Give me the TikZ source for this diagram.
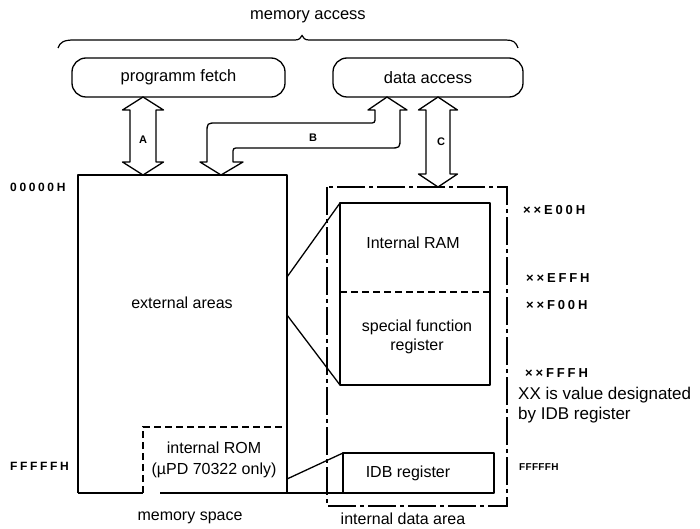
\documentclass[tikz,border=0pt]{standalone}
\usepackage{fontspec}
\setmainfont{Liberation Sans}
\newfontfamily\hexfont[LetterSpace=22]{Liberation Sans}
\newfontfamily\hexfontn[LetterSpace=3]{Liberation Sans}

% hollow double-headed vertical arrow: x, y top, y bottom, half shaft, half head
\newcommand\vdarrow[5]{%
  \draw[outline] (#1,#2) -- (#1+#5,#2+13) -- (#1+#4,#2+13) -- (#1+#4,#3-13)
    -- (#1+#5,#3-13) -- (#1,#3) -- (#1-#5,#3-13) -- (#1-#4,#3-13)
    -- (#1-#4,#2+13) -- (#1-#5,#2+13) -- cycle;}

\begin{document}
\begin{tikzpicture}[x=1pt,y=-1pt,
  outline/.style={line width=1.3pt, line join=round},
  lab/.style={font=\fontsize{16}{19}\selectfont, inner sep=0pt, align=center},
  toplab/.style={font=\fontsize{16.5}{19}\selectfont, inner sep=0pt},
  letter/.style={font=\bfseries\fontsize{11}{13}\selectfont, inner sep=0pt},
  hex/.style={font=\hexfont\bfseries\fontsize{12}{14}\selectfont, inner sep=0pt, anchor=west},
  hexb/.style={font=\hexfont\bfseries\fontsize{13}{15}\selectfont, inner sep=0pt, anchor=west},
  hexs/.style={font=\hexfontn\bfseries\fontsize{10}{12}\selectfont, inner sep=0pt, anchor=west},
  pill/.style={draw, line width=1.3pt, rounded corners=14pt, inner sep=0pt,
    minimum height=39pt, font=\fontsize{16.5}{19}\selectfont},
  dashdot/.style={line width=1.3pt, dash pattern=on 28pt off 4pt on 4pt off 4pt},
  dashline/.style={line width=1.3pt, dash pattern=on 7pt off 4pt},
]
\useasboundingbox (0,0) rectangle (700,529);

% memory access brace
\node[toplab] (ma) at (308,17) {memory access};
\draw[line width=1.2pt] (58,48) .. controls (60,42) and (64,40) .. (74,40) -- (295,40)
  .. controls (299,40) and (301,38) .. (302,35.5) .. controls (303,38) and (305,40) .. (309,40)
  -- (506,40) .. controls (513,40) and (516,42) .. (518,48);

% access units
\node[pill, minimum width=213pt] (pf) at (178.5,77.5) {programm fetch};
\node[pill, minimum width=190pt] (da) at (428,77.5) {data access};

% arrows A and C
\vdarrow{143}{97}{175}{13}{20.5}
\node[letter] (la) at (143,140) {A};
\vdarrow{438}{97}{187}{12}{19.5}
\node[letter] (lc) at (441,142) {C};

% arrow B
\draw[outline] (387,97) -- (407,110) -- (400,110) -- (400,138)
  .. controls (400,148) .. (390,148) -- (239,148)
  .. controls (233,148) .. (233,154) -- (233,162) -- (243,162) -- (221,175)
  -- (200,162) -- (207,162) -- (207,133) .. controls (207,123) .. (217,123)
  -- (369,123) .. controls (375,123) .. (375,117) -- (375,110) -- (368,110) -- cycle;
\node[letter] (lb) at (313,138) {B};

% memory space
\draw[outline] (78,493) -- (78,175) -- (287,175) -- (287,493);
\draw[outline] (78,493) -- (143,493);
\draw[outline] (160,493) -- (343,493);
\draw[dashline] (143,493) -- (143,427) -- (287,427);
\node[lab] (ext) at (182,303) {external areas};
\node[lab] (rom) at (214,460) {internal ROM\\[2pt](\textmu PD 70322 only)};
\node[lab] (ms) at (190,518) {memory space};

% internal data area
\draw[dashdot] (327,187) rectangle (507,506);
\draw[outline] (340,203) rectangle (490,385);
\draw[dashline] (340,292) -- (490,292);
\draw[outline] (343,453) rectangle (494,493);
\node[lab] (ram) at (413,243) {Internal RAM};
\node[lab] (sfr) at (417,337) {special function\\register};
\node[lab] (idb) at (408,473) {IDB register};
\node[lab] (ida) at (403,519) {internal data area};

% zoom lines
\draw[outline] (287,277) -- (340,203);
\draw[outline] (287,315) -- (340,385);
\draw[outline] (287,479) -- (343,453);

% addresses
\node[hex] (a0) at (10,187) {00000H};
\node[hex] (a1) at (10,466) {FFFFFH};
\node[hexb] (e0) at (523,210) {××E00H};
\node[hexb] (e1) at (526,278) {××EFFH};
\node[hexb] (f0) at (526,305) {××F00H};
\node[hexb] (f1) at (525,373) {××FFFH};
\node[hexs] (a2) at (519,467) {FFFFFH};
\node[lab, anchor=west, align=left, font=\fontsize{17}{20}\selectfont] (note) at (518,405)
  {XX is value designated\\by IDB register};
\end{tikzpicture}
\end{document}
